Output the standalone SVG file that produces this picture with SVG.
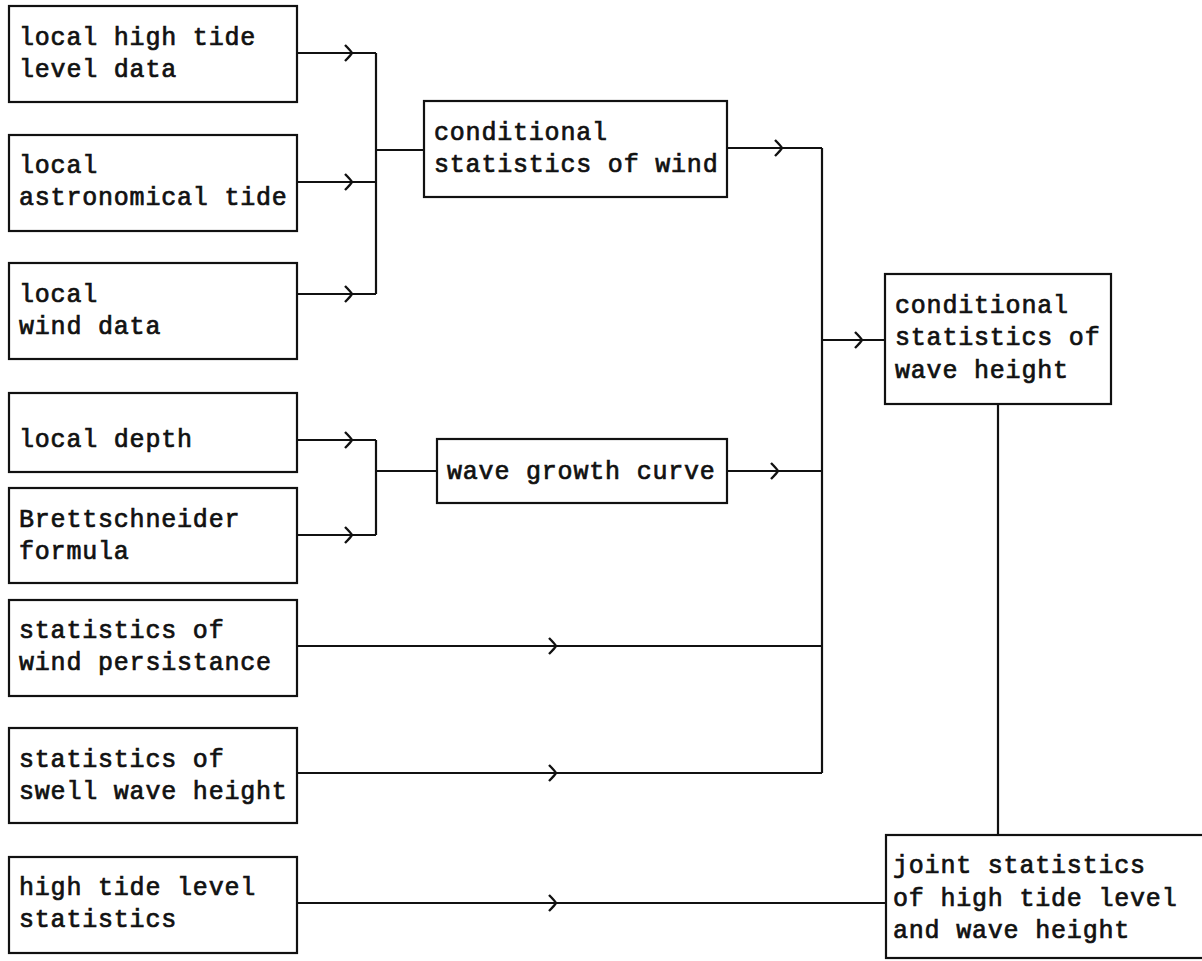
<svg xmlns="http://www.w3.org/2000/svg" width="1202" height="961" viewBox="0 0 1202 961">
<style>
.box{fill:#fff;stroke:#111;stroke-width:2.2}
.t{font-family:"Liberation Mono","DejaVu Sans Mono",monospace;font-size:25px;letter-spacing:0.8px;fill:#111;stroke:#111;stroke-width:0.7}
.c{fill:none;stroke:#111;stroke-width:2.2}
</style>
<defs>
<marker id="chev" markerUnits="userSpaceOnUse" markerWidth="22" markerHeight="22" viewBox="-11 -11 22 22" refX="0" refY="0" orient="auto">
<path d="M-7,-8 Q-1,-2 0,0 Q-1,2 -7,8" fill="none" stroke="#111" stroke-width="2.4"/>
</marker>
</defs>
<rect width="1202" height="961" fill="#fff"/>
<g id="connectors">
<path class="c" d="M297,53 L352,53 L376,53" marker-mid="url(#chev)"/>
<path class="c" d="M297,182 L352,182 L376,182" marker-mid="url(#chev)"/>
<path class="c" d="M297,294 L352,294 L376,294" marker-mid="url(#chev)"/>
<path class="c" d="M376,53 V294 M376,150 H424"/>
<path class="c" d="M727,148 L782,148 L822,148" marker-mid="url(#chev)"/>
<path class="c" d="M822,148 V773"/>
<path class="c" d="M822,340 L862,340 L885,340" marker-mid="url(#chev)"/>
<path class="c" d="M297,440 L352,440 L376,440" marker-mid="url(#chev)"/>
<path class="c" d="M297,535 L352,535 L376,535" marker-mid="url(#chev)"/>
<path class="c" d="M376,440 V535 M376,471 H437"/>
<path class="c" d="M727,471 L778,471 L822,471" marker-mid="url(#chev)"/>
<path class="c" d="M297,646 L556,646 L822,646" marker-mid="url(#chev)"/>
<path class="c" d="M297,773 L556,773 L822,773" marker-mid="url(#chev)"/>
<path class="c" d="M297,903 L556,903 L886,903" marker-mid="url(#chev)"/>
<path class="c" d="M998,404 V835"/>
</g>
<g id="n1"><rect class="box" x="9" y="6" width="288" height="96"/><text class="t" x="19" y="45">local high tide</text><text class="t" x="19" y="77">level data</text></g>
<g id="n2"><rect class="box" x="9" y="135" width="288" height="96"/><text class="t" x="19" y="173">local</text><text class="t" x="19" y="205">astronomical tide</text></g>
<g id="n3"><rect class="box" x="9" y="263" width="288" height="96"/><text class="t" x="19" y="302">local</text><text class="t" x="19" y="334">wind data</text></g>
<g id="n4"><rect class="box" x="9" y="393" width="288" height="79"/><text class="t" x="19" y="447">local depth</text></g>
<g id="n5"><rect class="box" x="9" y="488" width="288" height="95"/><text class="t" x="19" y="527">Brettschneider</text><text class="t" x="19" y="559">formula</text></g>
<g id="n6"><rect class="box" x="9" y="600" width="288" height="96"/><text class="t" x="19" y="638">statistics of</text><text class="t" x="19" y="670">wind persistance</text></g>
<g id="n7"><rect class="box" x="9" y="728" width="288" height="95"/><text class="t" x="19" y="767">statistics of</text><text class="t" x="19" y="799">swell wave height</text></g>
<g id="n8"><rect class="box" x="9" y="857" width="288" height="96"/><text class="t" x="19" y="895">high tide level</text><text class="t" x="19" y="927">statistics</text></g>
<g id="n9"><rect class="box" x="424" y="101" width="303" height="96"/><text class="t" x="434" y="140">conditional</text><text class="t" x="434" y="172">statistics of wind</text></g>
<g id="n10"><rect class="box" x="437" y="439" width="290" height="64"/><text class="t" x="447" y="479">wave growth curve</text></g>
<g id="n11"><rect class="box" x="885" y="274" width="226" height="130"/><text class="t" x="895" y="313">conditional</text><text class="t" x="895" y="345">statistics of</text><text class="t" x="895" y="378">wave height</text></g>
<g id="n12"><rect class="box" x="886" y="835" width="330" height="123"/><text class="t" x="893" y="873">joint statistics</text><text class="t" x="893" y="906">of high tide level</text><text class="t" x="893" y="938">and wave height</text></g>
</svg>
